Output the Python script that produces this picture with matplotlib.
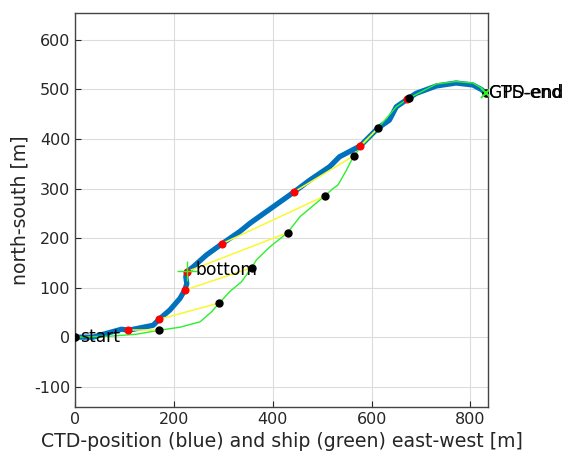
import numpy as np
import matplotlib
matplotlib.use('Agg')
import matplotlib.pyplot as plt

plt.rcParams['axes.unicode_minus'] = False

# CTD track (blue), east-west / north-south in m
ctd_x = [0, 36, 94, 108, 158, 170, 192, 212, 222, 226, 224, 226, 239, 266, 298, 333, 354,
         443, 475, 515, 535, 577, 613, 636, 650, 675, 690, 731, 771, 805, 822, 832]
ctd_y = [0, 0, 16, 14, 24, 36, 55, 78, 95, 108, 122, 132, 142, 166, 189, 213, 230,
         293, 317, 344, 364, 386, 422, 438, 465, 482, 492, 507, 513, 509, 500, 492]

# ship track (green)
ship_x = [0, 71, 125, 170, 212, 253, 276, 292, 313, 337, 357, 367, 394, 430, 455, 505,
          522, 532, 549, 564, 576, 613, 650, 675, 731, 771, 805, 822, 832]
ship_y = [0, 2, 6, 14, 20, 31, 51, 69, 92, 112, 140, 156, 182, 211, 243, 285,
          300, 307, 337, 366, 381, 422, 465, 482, 511, 516, 513, 503, 492]

# CTD positions (red) and ship positions (black) at the same times
ctd_px = [0, 108, 170, 222, 226, 298, 443, 577, 672, 832]
ctd_py = [0, 14, 36, 95, 132, 189, 293, 386, 480, 492]
ship_px = [0, 170, 292, 357, 430, 505, 564, 613, 675, 832]
ship_py = [0, 14, 69, 140, 211, 285, 366, 422, 482, 492]

bottom_xy = (226, 134)
end_xy = (832, 492)

fig = plt.figure(figsize=(5.69, 4.53), dpi=100)
ax = fig.add_axes([0.132, 0.1015, 0.726, 0.8695])

ax.plot(ctd_x, ctd_y, color='#0072BD', lw=3.8, solid_capstyle='round', zorder=2)
ax.plot(ship_x, ship_y, color='#2cf02c', lw=1.0, zorder=3)
for cx, cy, sx, sy in zip(ctd_px, ctd_py, ship_px, ship_py):
    ax.plot([cx, sx], [cy, sy], color='#f8f830', lw=1.1, zorder=3)
ax.plot(ctd_px, ctd_py, 'o', color='red', ms=4.8, zorder=4)
ax.plot(ship_px, ship_py, 'o', color='black', ms=5, zorder=5)
ax.plot(*bottom_xy, '+', color='#2cf02c', ms=15, mew=1.0, zorder=5)
ax.plot(*end_xy, 'x', color='#2cf02c', ms=7, mew=1.5, zorder=6)

tfs = 12.3
ax.text(10, 0, 'start', fontsize=tfs, va='center', ha='left', zorder=7)
ax.text(244, 135, 'bottom', fontsize=tfs, va='center', ha='left', zorder=7)
ax.text(838, 492, 'CTD-end', fontsize=tfs, va='center', ha='left', clip_on=False, zorder=7)
ax.text(838, 492, 'GPS-end', fontsize=tfs, va='center', ha='left', clip_on=False, zorder=7)

ax.set_xlim(0, 836)
ax.set_ylim(-141, 654)
ax.set_xticks([0, 200, 400, 600, 800])
ax.set_yticks([-100, 0, 100, 200, 300, 400, 500, 600])
ax.grid(True, color='#dcdcdc', lw=0.8)
ax.set_axisbelow(True)
ax.tick_params(direction='in', length=4, labelsize=11.5, colors='#262626', width=0.8)
for s in ax.spines.values():
    s.set_color('#444444')
    s.set_linewidth(1.0)
ax.set_xlabel('CTD-position (blue) and ship (green) east-west [m]', fontsize=13.6, color='#262626',
              labelpad=4)
ax.set_ylabel('north-south [m]', fontsize=13.6, color='#262626', labelpad=3)

fig.savefig('out.png', dpi=100)
